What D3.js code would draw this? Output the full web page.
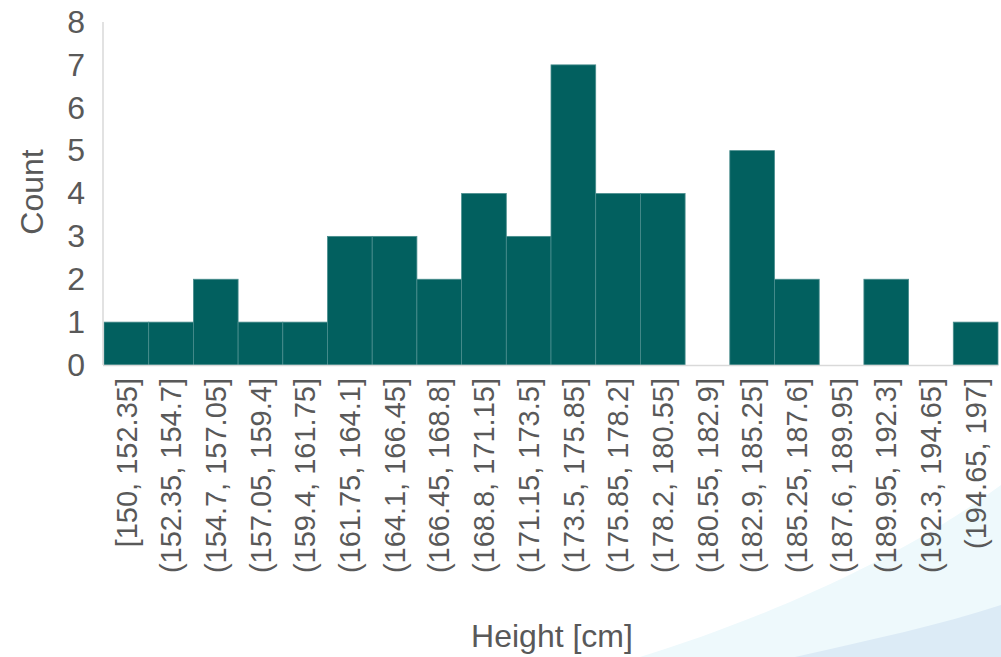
<!DOCTYPE html>
<html>
<head>
<meta charset="utf-8">
<script src="https://cdn.jsdelivr.net/npm/d3@7"></script>
<style>
  html, body { margin: 0; padding: 0; background: #ffffff; }
  svg { display: block; font-family: "Liberation Sans", Arial, sans-serif; }
</style>
</head>
<body>
<svg id="chart" width="1001" height="657"></svg>
<script>
// Histogram bins of height measurements
const binLabels = [
  "[150, 152.35]", "(152.35, 154.7]", "(154.7, 157.05]", "(157.05, 159.4]",
  "(159.4, 161.75]", "(161.75, 164.1]", "(164.1, 166.45]", "(166.45, 168.8]",
  "(168.8, 171.15]", "(171.15, 173.5]", "(173.5, 175.85]", "(175.85, 178.2]",
  "(178.2, 180.55]", "(180.55, 182.9]", "(182.9, 185.25]", "(185.25, 187.6]",
  "(187.6, 189.95]", "(189.95, 192.3]", "(192.3, 194.65]", "(194.65, 197]"
];
const counts = [1, 1, 2, 1, 1, 3, 3, 2, 4, 3, 7, 4, 4, 0, 5, 2, 0, 2, 0, 1];
const yTicks = [0, 1, 2, 3, 4, 5, 6, 7, 8];

const W = 1001, H = 657;
const margin = { top: 22, right: 3, bottom: 292, left: 104 };
const svg = d3.select("#chart");

// Decorative background waves in the lower right corner
const bg = svg.append("g");
bg.append("path")
  .attr("d", "M640,657 C760,620 900,560 1001,485 L1001,657 Z")
  .attr("fill", "#eef9fc");
bg.append("path")
  .attr("d", "M795,657 C870,640 940,625 1001,605 L1001,657 Z")
  .attr("fill", "#dcebf6");

const x = d3.scaleBand()
  .domain(binLabels)
  .range([margin.left, W - margin.right])
  .padding(0);

const y = d3.scaleLinear()
  .domain([0, 8])
  .range([H - margin.bottom, margin.top]);

// Bars
svg.append("g")
  .selectAll("rect")
  .data(binLabels.map((b, i) => ({ bin: b, count: counts[i] })))
  .join("rect")
  .filter(d => d.count > 0)
  .attr("x", d => x(d.bin))
  .attr("y", d => y(d.count))
  .attr("width", x.bandwidth())
  .attr("height", d => y(0) - y(d.count))
  .attr("fill", "#02605f")
  .attr("stroke", "#4a8e8e")
  .attr("stroke-width", 0.8);

// Axis lines
svg.append("line")
  .attr("x1", margin.left - 1).attr("x2", margin.left - 1)
  .attr("y1", y(8)).attr("y2", y(0))
  .attr("stroke", "#d9d9d9").attr("stroke-width", 1.5);
svg.append("line")
  .attr("x1", margin.left - 1).attr("x2", W - margin.right)
  .attr("y1", y(0) + 0.5).attr("y2", y(0) + 0.5)
  .attr("stroke", "#d9d9d9").attr("stroke-width", 1.5);

// Y axis
const yAxis = d3.axisLeft(y).tickValues(yTicks).tickSize(0).tickPadding(19);
const gy = svg.append("g")
  .attr("transform", `translate(${margin.left},0)`)
  .call(yAxis);
gy.select(".domain").remove();
gy.selectAll("text")
  .attr("fill", "#595959")
  .style("font-size", "32px");

// X axis with rotated bin labels
const xAxis = d3.axisBottom(x).tickSize(0).tickPadding(0);
const gx = svg.append("g")
  .attr("transform", `translate(0,${y(0)})`)
  .call(xAxis);
gx.select(".domain").remove();
gx.selectAll("text")
  .attr("fill", "#595959")
  .style("font-size", "29px")
  .attr("text-anchor", "end")
  .attr("transform", "rotate(-90)")
  .attr("x", -13)
  .attr("y", 0)
  .attr("dy", "0.35em");

// Axis titles
svg.append("text")
  .attr("x", 552).attr("y", 647)
  .attr("text-anchor", "middle")
  .attr("fill", "#595959")
  .style("font-size", "32px")
  .text("Height [cm]");

svg.append("text")
  .attr("transform", "translate(43,192) rotate(-90)")
  .attr("text-anchor", "middle")
  .attr("fill", "#595959")
  .style("font-size", "32px")
  .text("Count");
</script>
</body>
</html>
